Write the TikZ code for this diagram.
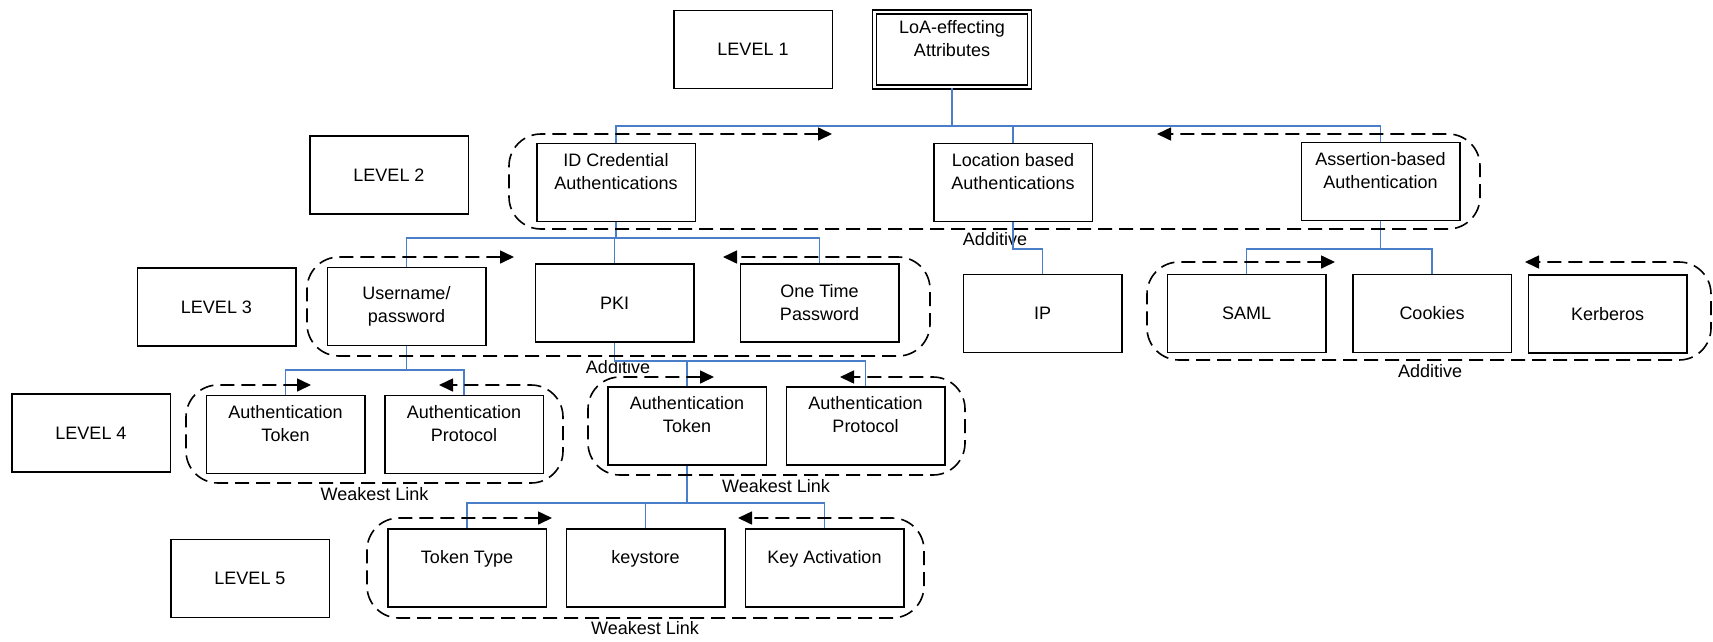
\documentclass[tikz,border=0pt]{standalone}
\usepackage{fontspec}
\setmainfont{Liberation Sans}
\usetikzlibrary{arrows.meta}
\definecolor{conblue}{RGB}{74,126,200}
\begin{document}
\begin{tikzpicture}[x=1pt,y=-1pt,
  lbl/.style={font=\fontsize{18}{23}\selectfont, inner sep=0pt, align=center},
  bx/.style={draw, line width=1.5pt, minimum width=158.5pt, minimum height=78pt, inner sep=0pt, align=center, font=\fontsize{18}{23}\selectfont},
  dbx/.style={bx, double, double distance=2.5pt, line width=1.3pt, minimum width=155pt, minimum height=75pt},
  conn/.style={draw=conblue, line width=1.4pt},
  grp/.style={draw, line width=1.6pt, dash pattern=on 14pt off 7pt, rounded corners=32pt, >={Triangle[length=14pt,width=13pt]}, <->}
]
\useasboundingbox (0,0) rectangle (1713,641);

% level boxes and items
\node[bx] (lv1) at (753,49.5) {LEVEL 1};
\node[dbx] (loa) at (952,49.5) {LoA-effecting\\Attributes\\~};
\node[bx] (lv2) at (389,175) {LEVEL 2};
\node[bx] (idc) at (616,182.5) {ID Credential\\Authentications\\~};
\node[bx] (loc) at (1013,182.5) {Location based\\Authentications\\~};
\node[bx] (asr) at (1380.5,181.5) {Assertion-based\\Authentication\\~};
\node[bx] (lv3) at (216.5,307) {LEVEL 3};
\node[bx] (usr) at (406.5,306.5) {Username/\\password};
\node[bx] (pki) at (614.5,303) {PKI};
\node[bx] (otp) at (819.5,303) {One Time\\Password};
\node[bx] (ip) at (1042.5,313.5) {IP};
\node[bx] (saml) at (1246.5,313.5) {SAML};
\node[bx] (cook) at (1432,313.5) {Cookies};
\node[bx] (kerb) at (1607.5,314) {Kerberos};
\node[bx] (lv4) at (91,433) {LEVEL 4};
\node[bx] (at1) at (285.5,434.5) {Authentication\\Token\\~};
\node[bx] (ap1) at (464,434.5) {Authentication\\Protocol\\~};
\node[bx] (at2) at (687,426) {Authentication\\Token\\~};
\node[bx] (ap2) at (865.5,426) {Authentication\\Protocol\\~};
\node[bx] (lv5) at (250,578.5) {LEVEL 5};
\node[bx] (tt) at (467,568) {Token Type\\~};
\node[bx] (ks) at (645.5,568) {keystore\\~};
\node[bx] (ka) at (824.5,568) {Key Activation\\~};

% group labels
\node[lbl] (add2) at (995,239) {Additive};
\node[lbl] (add3) at (618,367) {Additive};
\node[lbl] (add3r) at (1430,371) {Additive};
\node[lbl] (wl4a) at (374.5,494) {Weakest Link};
\node[lbl] (wl4b) at (776,486) {Weakest Link};
\node[lbl] (wl5) at (645,628) {Weakest Link};

% bus levels
\coordinate (b1) at (0,126);
\coordinate (b2) at (0,238);
\coordinate (b3) at (0,249);
\coordinate (b4) at (0,370);
\coordinate (b5) at (0,361);
\coordinate (b6) at (0,503);

% tree connectors
\draw[conn] (loa.south) -- (loa.south |- b1) -| (idc.north);
\draw[conn] (loa.south |- b1) -| (loc.north);
\draw[conn] (loa.south |- b1) -| (asr.north);
\draw[conn] (idc.south) -- (idc.south |- b2) -| (usr.north);
\draw[conn] (idc.south |- b2) -| (pki.north);
\draw[conn] (idc.south |- b2) -| (otp.north);
\draw[conn] (loc.south) -- (loc.south |- b3) -| (ip.north);
\draw[conn] (asr.south) -- (asr.south |- b3) -| (saml.north);
\draw[conn] (asr.south |- b3) -| (cook.north);
\draw[conn] (usr.south) -- (usr.south |- b4) -| (at1.north);
\draw[conn] (usr.south |- b4) -| (ap1.north);
\draw[conn] (pki.south) -- (pki.south |- b5) -| (at2.north);
\draw[conn] (pki.south |- b5) -| (ap2.north);
\draw[conn] (at2.south) -- (at2.south |- b6) -| (tt.north);
\draw[conn] (at2.south |- b6) -| (ks.north);
\draw[conn] (at2.south |- b6) -| (ka.north);

% dashed groups with arrows
\coordinate (g2a) at (832,134); \coordinate (g2b) at (1157,134);
\draw[grp] (g2a) -- (509,134) -- (509,229) -- (1480,229) -- (1480,134) -- (g2b);
\coordinate (g3a) at (514,257); \coordinate (g3b) at (723,257);
\draw[grp] (g3a) -- (307,257) -- (307,356) -- (930,356) -- (930,257) -- (g3b);
\coordinate (g3c) at (1335,262); \coordinate (g3d) at (1525,262);
\draw[grp] (g3c) -- (1147,262) -- (1147,360) -- (1711,360) -- (1711,262) -- (g3d);
\coordinate (g4a) at (311,385); \coordinate (g4b) at (439,385);
\draw[grp] (g4a) -- (186,385) -- (186,483) -- (563,483) -- (563,385) -- (g4b);
\coordinate (g4c) at (714,377); \coordinate (g4d) at (840,377);
\draw[grp] (g4c) -- (588,377) -- (588,475) -- (965,475) -- (965,377) -- (g4d);
\coordinate (g5a) at (552,518); \coordinate (g5b) at (738,518);
\draw[grp] (g5a) -- (367,518) -- (367,618) -- (924,618) -- (924,518) -- (g5b);
\end{tikzpicture}
\end{document}
